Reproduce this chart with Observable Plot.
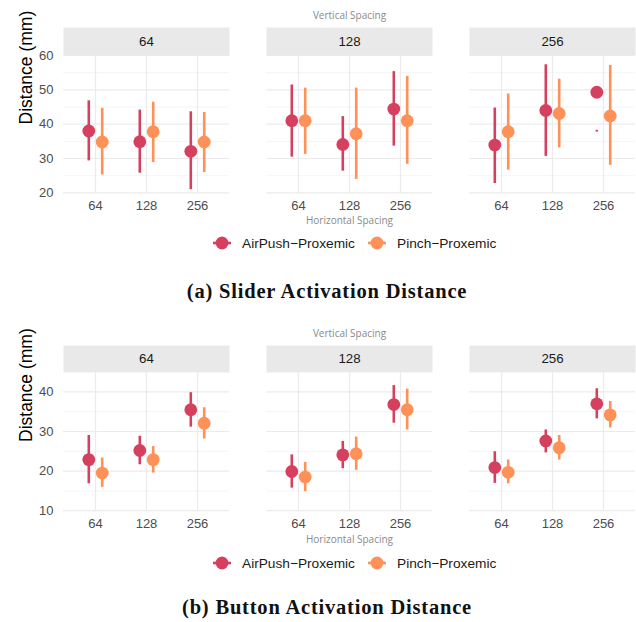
<!DOCTYPE html>
<html>
<head>
<meta charset="utf-8">
<script src="https://cdn.jsdelivr.net/npm/d3@7"></script>
<script src="https://cdn.jsdelivr.net/npm/@observablehq/plot@0.6"></script>
<style>
  body { margin: 0; background: #fff; }
  #wrap { position: relative; width: 636px; height: 622px; font-family: "Liberation Sans", Arial, sans-serif; }
  .chart { position: absolute; left: 0; }
  .legend { position: absolute; left: 0; width: 636px; height: 20px; font-size: 13.7px; color: #1a1a1a; }
  .legend .item { position: absolute; top: 0; display: flex; align-items: center; height: 20px; white-space: nowrap; }
  .caption { position: absolute; left: 0; width: 654px; text-align: center; font-family: "Liberation Serif", "DejaVu Serif", serif; font-weight: bold; font-size: 20.5px; letter-spacing: 0.8px; line-height: 1.15; color: #111; }
</style>
</head>
<body>
<div id="wrap">
  <div id="top" class="chart" style="top:0px"></div>
  <div class="legend" style="top:233px" id="leg1"></div>
  <div class="caption" style="top:280px">(a) Slider Activation Distance</div>
  <div id="bottom" class="chart" style="top:320px"></div>
  <div class="legend" style="top:553px" id="leg2"></div>
  <div class="caption" style="top:596px">(b) Button Activation Distance</div>
</div>
<script>
// ---- categories ----
const verticalSpacing = ["64", "128", "256"];
const horizontalSpacing = ["64", "128", "256"];
const seriesNames = ["AirPush\u2212Proxemic", "Pinch\u2212Proxemic"];
const seriesColors = ["#D6405F", "#FD9158"];

// ---- values: order = vertical (64,128,256) x horizontal (64,128,256) ----
const sliderAirMean   = [38.0, 34.9, 32.1, 41.0, 34.1, 44.4, 33.9, 44.0, 49.3];
const sliderAirLo     = [29.3, 25.7, 20.9, 30.4, 26.3, 33.6, 22.7, 30.6, 37.7];
const sliderAirHi     = [46.8, 44.1, 43.6, 51.4, 42.2, 55.3, 44.7, 57.3, 38.2];
const sliderPinchMean = [34.8, 37.8, 34.8, 41.0, 37.2, 41.0, 37.8, 43.1, 42.4];
const sliderPinchLo   = [25.2, 28.8, 25.9, 31.2, 23.9, 28.3, 26.6, 33.1, 28.0];
const sliderPinchHi   = [44.6, 46.4, 43.4, 50.5, 50.5, 53.9, 48.8, 53.1, 57.1];

const buttonAirMean   = [22.9, 25.2, 35.5, 19.9, 24.1, 36.8, 20.9, 27.6, 37.0];
const buttonAirLo     = [16.8, 21.6, 31.1, 15.7, 20.6, 32.1, 16.9, 24.6, 33.2];
const buttonAirHi     = [29.0, 28.8, 39.8, 24.1, 27.5, 41.6, 24.9, 30.4, 40.8];
const buttonPinchMean = [19.5, 22.9, 32.1, 18.5, 24.4, 35.5, 19.7, 25.9, 34.2];
const buttonPinchLo   = [15.9, 19.5, 28.1, 14.8, 20.2, 30.4, 16.8, 22.8, 30.9];
const buttonPinchHi   = [23.3, 26.2, 36.0, 22.2, 28.6, 40.7, 22.8, 29.0, 37.6];

// ---- tick labels ----
const sliderYTicks = [20, 30, 40, 50, 60];
const sliderYMinor = [25, 35, 45, 55];
const buttonYTicks = [10, 20, 30, 40];
const buttonYMinor = [15, 25, 35];

function buildRows(airMean, airLo, airHi, pMean, pLo, pHi) {
  const rows = [];
  let i = 0;
  for (const v of verticalSpacing) {
    for (const h of horizontalSpacing) {
      rows.push({v, h, series: seriesNames[0], mean: airMean[i], lo: airLo[i], hi: airHi[i]});
      rows.push({v, h, series: seriesNames[1], mean: pMean[i], lo: pLo[i], hi: pHi[i]});
      i++;
    }
  }
  return rows;
}

function makeChart(rows, cfg) {
  const panelH = cfg.height - cfg.marginTop - cfg.marginBottom;
  const dodge = 6.7;
  const marks = [
    // strip backgrounds
    Plot.frame({fill: "#E9E9E9", stroke: "none", insetTop: -cfg.stripH, insetBottom: panelH}),
    // grid
    Plot.ruleY(cfg.minor, {stroke: "#EEEEEE", strokeWidth: 0.6}),
    Plot.ruleY(cfg.major, {stroke: "#EBEBEB", strokeWidth: 1.2}),
    Plot.ruleX(horizontalSpacing, {stroke: "#EBEBEB", strokeWidth: 1.2}),
    Plot.axisX({tickSize: 0, tickPadding: 7, fontSize: 13, color: "#4D4D4D", label: null}),
    Plot.axisY(cfg.major, {tickSize: 0, tickPadding: 10, fontSize: 13, color: "#4D4D4D", label: null}),
    // strip labels
    Plot.text(verticalSpacing, {fx: d => d, text: d => d, frameAnchor: "top", lineAnchor: "middle", dy: -cfg.stripH / 2, fontSize: 13.3, fill: "#1a1a1a"}),
    // axis titles
    Plot.text(["Distance (mm)"], {fx: () => "64", text: d => d, frameAnchor: "left", lineAnchor: "middle", dx: -37, rotate: -90, fontSize: 17.5, fill: "#000"}),
    Plot.text(["Vertical Spacing"], {fx: () => "128", text: d => d, frameAnchor: "top", lineAnchor: "middle", dy: cfg.vsDy, fontSize: 10, fill: "#8A8A8A", fontFamily: "Open Sans"}),
    Plot.text(["Horizontal Spacing"], {fx: () => "128", text: d => d, frameAnchor: "bottom", lineAnchor: "middle", dy: cfg.hsDy, fontSize: 10, fill: "#8A8A8A", fontFamily: "Open Sans"})
  ];
  seriesNames.forEach((s, k) => {
    const sub = rows.filter(d => d.series === s);
    const dx = k === 0 ? -dodge : dodge;
    marks.push(Plot.ruleX(sub, {fx: "v", x: "h", y1: "lo", y2: "hi", stroke: seriesColors[k], strokeWidth: 2.6, dx}));
    marks.push(Plot.dot(sub, {fx: "v", x: "h", y: "mean", r: 6.4, fill: seriesColors[k], stroke: "none", dx}));
  });
  return Plot.plot({
    width: 636,
    height: cfg.height,
    marginTop: cfg.marginTop,
    marginBottom: cfg.marginBottom,
    marginLeft: 62,
    marginRight: 0,
    style: {fontFamily: "Liberation Sans, Arial, sans-serif", background: "white", overflow: "visible"},
    fx: {domain: verticalSpacing, paddingInner: 0.181, paddingOuter: 0, axis: null, label: null},
    x: {type: "point", domain: horizontalSpacing, padding: 0.6, axis: null, label: null},
    y: {domain: cfg.yDomain, axis: null, label: null},
    marks
  });
}

const sliderRows = buildRows(sliderAirMean, sliderAirLo, sliderAirHi, sliderPinchMean, sliderPinchLo, sliderPinchHi);
const buttonRows = buildRows(buttonAirMean, buttonAirLo, buttonAirHi, buttonPinchMean, buttonPinchLo, buttonPinchHi);

document.getElementById("top").appendChild(makeChart(sliderRows, {
  height: 230, marginTop: 55, marginBottom: 37, stripH: 28,
  yDomain: [19.8, 60], major: sliderYTicks, minor: sliderYMinor, vsDy: -40, hsDy: 27
}));
document.getElementById("bottom").appendChild(makeChart(buttonRows, {
  height: 230, marginTop: 52, marginBottom: 39, stripH: 27,
  yDomain: [9.8, 44.9], major: buttonYTicks, minor: buttonYMinor, vsDy: -39, hsDy: 28
}));

function legend(id) {
  const el = document.getElementById(id);
  const lefts = [211, 366];
  seriesNames.forEach((s, k) => {
    const item = document.createElement("div");
    item.className = "item";
    item.style.left = lefts[k] + "px";
    item.innerHTML = `<svg width="22" height="20"><line x1="2" x2="20" y1="10" y2="10" stroke="${seriesColors[k]}" stroke-width="2.6"/><circle cx="11" cy="10" r="6.4" fill="${seriesColors[k]}"/></svg><span style="margin-left:9px">${s}</span>`;
    el.appendChild(item);
  });
}
legend("leg1");
legend("leg2");
</script>
</body>
</html>
